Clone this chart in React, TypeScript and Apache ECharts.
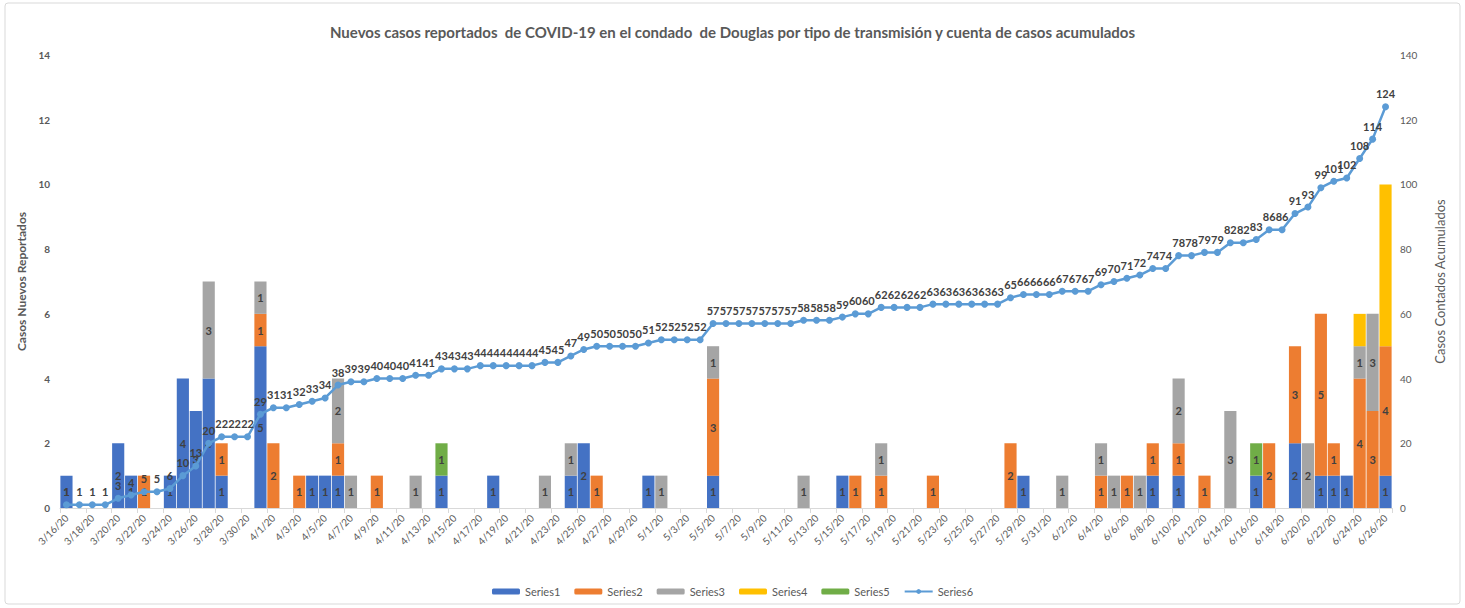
import React, { useEffect, useRef } from "react";
import * as echarts from "echarts";

const categories = [
  "3/16/20","3/17/20","3/18/20","3/19/20","3/20/20","3/21/20","3/22/20","3/23/20","3/24/20","3/25/20",
  "3/26/20","3/27/20","3/28/20","3/29/20","3/30/20","3/31/20","4/1/20","4/2/20","4/3/20","4/4/20",
  "4/5/20","4/6/20","4/7/20","4/8/20","4/9/20","4/10/20","4/11/20","4/12/20","4/13/20","4/14/20",
  "4/15/20","4/16/20","4/17/20","4/18/20","4/19/20","4/20/20","4/21/20","4/22/20","4/23/20","4/24/20",
  "4/25/20","4/26/20","4/27/20","4/28/20","4/29/20","4/30/20","5/1/20","5/2/20","5/3/20","5/4/20",
  "5/5/20","5/6/20","5/7/20","5/8/20","5/9/20","5/10/20","5/11/20","5/12/20","5/13/20","5/14/20",
  "5/15/20","5/16/20","5/17/20","5/18/20","5/19/20","5/20/20","5/21/20","5/22/20","5/23/20","5/24/20",
  "5/25/20","5/26/20","5/27/20","5/28/20","5/29/20","5/30/20","5/31/20","6/1/20","6/2/20","6/3/20",
  "6/4/20","6/5/20","6/6/20","6/7/20","6/8/20","6/9/20","6/10/20","6/11/20","6/12/20","6/13/20",
  "6/14/20","6/15/20","6/16/20","6/17/20","6/18/20","6/19/20","6/20/20","6/21/20","6/22/20","6/23/20",
  "6/24/20","6/25/20","6/26/20",
];

const series1 = [
  1,0,0,0,2,1,0,0,1,4,
  3,4,1,0,0,5,0,0,0,1,
  1,1,0,0,0,0,0,0,0,1,
  0,0,0,1,0,0,0,0,0,1,
  2,0,0,0,0,1,0,0,0,0,
  1,0,0,0,0,0,0,0,0,0,
  1,0,0,0,0,0,0,0,0,0,
  0,0,0,0,1,0,0,0,0,0,
  0,0,0,0,1,0,1,0,0,0,
  0,0,1,0,0,2,0,1,1,1,
  0,0,1,
];
const series2 = [
  0,0,0,0,0,0,1,0,0,0,
  0,0,1,0,0,1,2,0,1,0,
  0,1,0,0,1,0,0,0,0,0,
  0,0,0,0,0,0,0,0,0,0,
  0,1,0,0,0,0,0,0,0,0,
  3,0,0,0,0,0,0,0,0,0,
  0,1,0,1,0,0,0,1,0,0,
  0,0,0,2,0,0,0,0,0,0,
  1,0,1,0,1,0,1,0,1,0,
  0,0,0,2,0,3,0,5,1,0,
  4,3,4,
];
const series3 = [
  0,0,0,0,0,0,0,0,0,0,
  0,3,0,0,0,1,0,0,0,0,
  0,2,1,0,0,0,0,1,0,0,
  0,0,0,0,0,0,0,1,0,1,
  0,0,0,0,0,0,1,0,0,0,
  1,0,0,0,0,0,0,1,0,0,
  0,0,0,1,0,0,0,0,0,0,
  0,0,0,0,0,0,0,1,0,0,
  1,1,0,1,0,0,2,0,0,0,
  3,0,0,0,0,0,2,0,0,0,
  1,3,0,
];
const series4 = [
  0,0,0,0,0,0,0,0,0,0,
  0,0,0,0,0,0,0,0,0,0,
  0,0,0,0,0,0,0,0,0,0,
  0,0,0,0,0,0,0,0,0,0,
  0,0,0,0,0,0,0,0,0,0,
  0,0,0,0,0,0,0,0,0,0,
  0,0,0,0,0,0,0,0,0,0,
  0,0,0,0,0,0,0,0,0,0,
  0,0,0,0,0,0,0,0,0,0,
  0,0,0,0,0,0,0,0,0,0,
  1,0,5,
];
const series5 = [
  0,0,0,0,0,0,0,0,0,0,
  0,0,0,0,0,0,0,0,0,0,
  0,0,0,0,0,0,0,0,0,1,
  0,0,0,0,0,0,0,0,0,0,
  0,0,0,0,0,0,0,0,0,0,
  0,0,0,0,0,0,0,0,0,0,
  0,0,0,0,0,0,0,0,0,0,
  0,0,0,0,0,0,0,0,0,0,
  0,0,0,0,0,0,0,0,0,0,
  0,0,1,0,0,0,0,0,0,0,
  0,0,0,
];
const series6 = [
  1,1,1,1,3,4,5,5,6,10,
  13,20,22,22,22,29,31,31,32,33,
  34,38,39,39,40,40,40,41,41,43,
  43,43,44,44,44,44,44,45,45,47,
  49,50,50,50,50,51,52,52,52,52,
  57,57,57,57,57,57,57,58,58,58,
  59,60,60,62,62,62,62,63,63,63,
  63,63,63,65,66,66,66,67,67,67,
  69,70,71,72,74,74,78,78,79,79,
  82,82,83,86,86,91,93,99,101,102,
  108,114,124,
];

const leftTicks = [0, 2, 4, 6, 8, 10, 12, 14];
const rightTicks = [0, 20, 40, 60, 80, 100, 120, 140];

const FONT = "Lato, 'Open Sans', sans-serif";
const TXT = "#595959";
const LBL = "#404040";

export default function App() {
  const ref = useRef<HTMLDivElement>(null);
  useEffect(() => {
    if (!ref.current) return;
    const chart = echarts.init(ref.current, undefined, { renderer: "svg" });
    const barLabel = {
      show: true,
      position: "inside",
      color: LBL,
      fontWeight: "bold",
      fontSize: 11,
      fontFamily: FONT,
    };
    const bar = (name: string, data: number[], color: string, showLabel = true) => ({
      name,
      type: "bar",
      stack: "total",
      yAxisIndex: 0,
      barCategoryGap: "6%",
      itemStyle: { color },
      label: { ...barLabel, show: showLabel },
      data: data.map((v) => (v === 0 ? null : v)),
    });
    chart.setOption({
      animation: false,
      textStyle: { fontFamily: FONT },
      title: {
        text: "Nuevos casos reportados  de COVID-19 en el condado  de Douglas por tipo de transmisión y cuenta de casos acumulados",
        left: "center",
        top: 19,
        textStyle: { fontSize: 15, fontWeight: "bold", color: TXT, fontFamily: FONT },
      },
      legend: {
        bottom: 6,
        left: "center",
        itemWidth: 28,
        itemHeight: 6,
        itemGap: 14,
        textStyle: { fontSize: 11, color: TXT, fontFamily: FONT },
        data: ["Series1", "Series2", "Series3", "Series4", "Series5", "Series6"],
      },
      grid: { left: 60, right: 73, top: 55, bottom: 100, containLabel: false },
      xAxis: {
        type: "category",
        data: categories,
        boundaryGap: true,
        axisLine: { lineStyle: { color: "#D9D9D9" } },
        axisTick: { show: true, interval: 1, length: 5, lineStyle: { color: "#D9D9D9" } },
        axisLabel: {
          interval: 1,
          rotate: 45,
          fontSize: 10,
          color: TXT,
          margin: 8,
          fontFamily: FONT,
        },
      },
      yAxis: [
        {
          type: "value",
          min: leftTicks[0],
          max: leftTicks[leftTicks.length - 1],
          interval: 2,
          name: "Casos Nuevos Reportados",
          nameLocation: "middle",
          nameGap: 32,
          nameTextStyle: { fontSize: 12, fontWeight: "bold", color: TXT, fontFamily: FONT },
          splitLine: { show: false },
          axisLine: { show: false },
          axisTick: { show: false },
          axisLabel: { fontSize: 10, fontWeight: "bold", color: TXT, margin: 10, fontFamily: FONT },
        },
        {
          type: "value",
          min: rightTicks[0],
          max: rightTicks[rightTicks.length - 1],
          interval: 20,
          name: "Casos Contados Acumulados",
          nameLocation: "middle",
          nameGap: 41,
          nameRotate: 90,
          nameTextStyle: { fontSize: 13, color: TXT, fontFamily: FONT },
          splitLine: { show: false },
          axisLine: { show: false },
          axisTick: { show: false },
          axisLabel: { fontSize: 10, color: TXT, margin: 8, fontFamily: FONT },
        },
      ],
      graphic: [
        {
          type: "rect",
          shape: { x: 5, y: 3, width: 1455, height: 601, r: 3 },
          style: { fill: "none", stroke: "#D9D9D9", lineWidth: 1 },
          silent: true,
        },
      ],
      series: [
        bar("Series1", series1, "#4472C4"),
        bar("Series2", series2, "#ED7D31"),
        bar("Series3", series3, "#A5A5A5"),
        bar("Series4", series4, "#FFC000", false),
        bar("Series5", series5, "#70AD47"),
        {
          name: "Series6",
          type: "line",
          yAxisIndex: 1,
          data: series6,
          symbol: "circle",
          symbolSize: 7,
          lineStyle: { color: "#5B9BD5", width: 2.5 },
          itemStyle: { color: "#5B9BD5" },
          label: {
            show: true,
            position: "top",
            distance: 4,
            color: LBL,
            fontWeight: "bold",
            fontSize: 11,
            fontFamily: FONT,
          },
          z: 5,
        },
      ],
    });
    return () => chart.dispose();
  }, []);
  return (
    <div
      ref={ref}
      style={{ position: "fixed", left: 0, top: 0, width: 1465, height: 608, background: "#fff" }}
    />
  );
}
